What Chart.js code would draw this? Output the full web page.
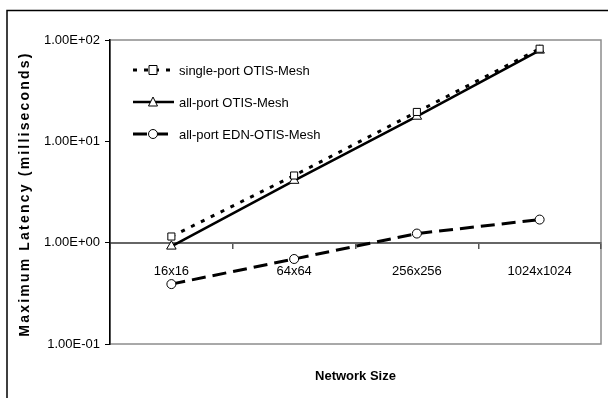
<!DOCTYPE html>
<html>
<head>
  <meta charset="utf-8">
  <title>Maximum Latency</title>
  <script src="https://cdn.jsdelivr.net/npm/chart.js@4.4.1/dist/chart.umd.min.js"></script>
  <style>
    html, body { margin: 0; padding: 0; background: #fff; }
    #wrap { position: relative; width: 608px; height: 398px; }
  </style>
</head>
<body>
  <div id="wrap">
    <canvas id="canvas"></canvas>
  </div>
  <script>
    // data
    const networkSizes = ['16x16', '64x64', '256x256', '1024x1024'];
    const singlePort = [1.15, 4.6, 19.5, 82];
    const allPort = [0.92, 4.1, 17.6, 79];
    const allPortEdn = [0.39, 0.69, 1.23, 1.69];
    const yTickValues = [0.1, 1, 10, 100];
    const yTickLabels = ['1.00E-01', '1.00E+00', '1.00E+01', '1.00E+02'];
    const xTitle = 'Network Size';
    const yTitle = 'Maximum Latency (milliseconds)';

    const font = 'Arial, "Liberation Sans", sans-serif';

    // outer frame, plot frame, axis titles and the legend inside the plot
    const extras = {
      id: 'extras',
      beforeDraw(chart) {
        const c = chart.ctx, a = chart.chartArea;
        c.save();
        c.strokeStyle = '#000';
        c.lineWidth = 1.5;
        c.strokeRect(7, 10.5, 620, 400);
        c.strokeStyle = '#8c8c8c';
        c.lineWidth = 1.5;
        c.strokeRect(a.left, a.top, a.right - a.left, a.bottom - a.top);

        c.fillStyle = '#000';
        c.font = 'bold 13px ' + font;
        c.textAlign = 'center';
        c.textBaseline = 'middle';
        c.fillText(xTitle, (a.left + a.right) / 2, 376);

        c.translate(25, 194);
        c.rotate(-Math.PI / 2);
        c.font = 'bold 14px ' + font;
        c.letterSpacing = '2.2px';
        c.fillText(yTitle, 0, 0);
        c.restore();
      },
      afterDraw(chart) {
        const c = chart.ctx;
        c.save();
        c.font = '13px ' + font;
        c.textBaseline = 'middle';
        chart.data.datasets.forEach((ds, i) => {
          const y = 70 + i * 32;
          c.strokeStyle = '#000';
          c.lineWidth = ds.borderWidth;
          c.setLineDash(ds.borderDash || []);
          c.beginPath();
          c.moveTo(133, y);
          c.lineTo(174, y);
          c.stroke();
          c.setLineDash([]);
          c.lineWidth = 1;
          c.fillStyle = '#fff';
          const cx = 153;
          c.beginPath();
          if (ds.pointStyle === 'rect') {
            c.rect(cx - 4, y - 4.5, 8, 9);
          } else if (ds.pointStyle === 'triangle') {
            c.moveTo(cx, y - 5); c.lineTo(cx + 4.5, y + 4); c.lineTo(cx - 4.5, y + 4); c.closePath();
          } else {
            c.arc(cx, y, 4.5, 0, Math.PI * 2);
          }
          c.fill();
          c.stroke();
          c.fillStyle = '#000';
          c.fillText(ds.label, 179, y + 1);
        });
        c.restore();
      }
    };

    const pointBase = {
      borderColor: '#000',
      backgroundColor: '#fff',
      pointBackgroundColor: '#fff',
      pointBorderColor: '#000',
      pointBorderWidth: 1,
      tension: 0,
      fill: false
    };

    new Chart(document.getElementById('canvas'), {
      type: 'line',
      data: {
        labels: networkSizes,
        datasets: [
          Object.assign({}, pointBase, {
            label: 'single-port OTIS-Mesh', data: singlePort,
            borderWidth: 3, borderDash: [4, 7], pointStyle: 'rect', pointRadius: 5
          }),
          Object.assign({}, pointBase, {
            label: 'all-port OTIS-Mesh', data: allPort,
            borderWidth: 2.5, pointStyle: 'triangle', pointRadius: 5.5
          }),
          Object.assign({}, pointBase, {
            label: 'all-port EDN-OTIS-Mesh', data: allPortEdn,
            borderWidth: 3, borderDash: [14, 7], pointStyle: 'circle', pointRadius: 4.5
          })
        ]
      },
      options: {
        responsive: true,
        maintainAspectRatio: false,
        animation: false,
        layout: { padding: { top: 40, right: 7, bottom: 54, left: 0 } },
        plugins: {
          legend: { display: false },
          tooltip: { enabled: false }
        },
        scales: {
          x: {
            type: 'category',
            position: { y: 1 },
            offset: true,
            grid: { offset: true, drawOnChartArea: false, drawTicks: true, tickLength: 5, color: '#555', lineWidth: 1.5 },
            border: { color: '#666', width: 2 },
            ticks: { color: '#000', font: { family: font, size: 13 }, padding: 16, maxRotation: 0 }
          },
          y: {
            type: 'logarithmic',
            min: 0.1,
            max: 100,
            afterBuildTicks: (s) => { s.ticks = yTickValues.map(v => ({ value: v })); },
            afterFit: (s) => { s.width = 110; },
            grid: { drawOnChartArea: false, drawTicks: true, tickLength: 5, color: '#000', lineWidth: 1 },
            border: { color: '#000', width: 1.5 },
            ticks: {
              color: '#000', font: { family: font, size: 13 }, padding: 5,
              callback: (v) => { const i = yTickValues.indexOf(v); return i < 0 ? '' : yTickLabels[i]; }
            }
          }
        }
      },
      plugins: [extras]
    });
  </script>
</body>
</html>
